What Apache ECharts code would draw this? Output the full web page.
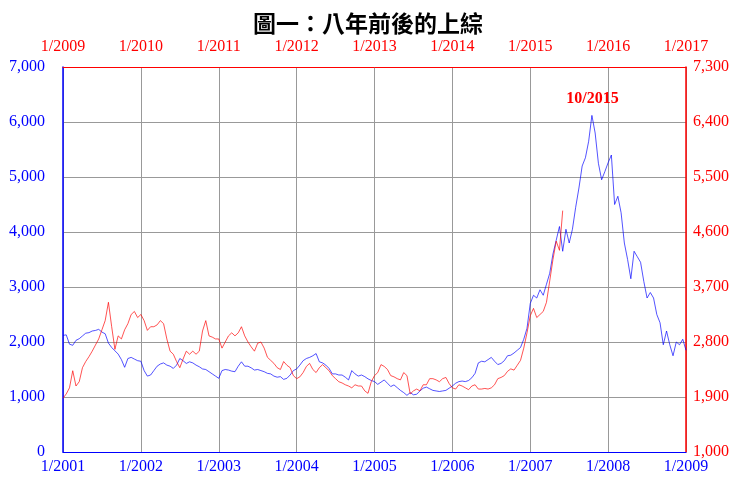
<!DOCTYPE html>
<html><head><meta charset="utf-8">
<script src="https://cdn.jsdelivr.net/npm/echarts@6/dist/echarts.min.js"></script>
<style>html,body{margin:0;padding:0;background:#fff}#c{width:736px;height:478px}</style>
</head><body><div id="c"></div>
<script>
// ---- data ----
const titleText = '圖一：八年前後的上綜';
const annotationText = '10/2015';
const annotationAt = [2015.8, 6780];          // [top-axis year, right-axis value]
const blueStartYear = 2001;                   // bottom axis 1/2001 .. 1/2009
const redStartYear = 2009;                    // top axis 1/2009 .. 1/2017
const pointsPerYear = 24;                     // values read twice a month
const bottomYears = [2001, 2009];
const topYears = [2009, 2017];
const leftTicks = [0, 7000, 1000];
const rightTicks = [1000, 7300, 900];

// Shanghai Composite, 2001-2008 (left axis, blue)
const blueValues = [
  2120,2130,1960,1940,2030,2060,2110,2160,2170,2200,2210,2230,2180,2150,1980,1900,1840,1780,1680,1540,1700,1720,1690,1660,
  1650,1480,1380,1400,1480,1560,1600,1620,1580,1560,1520,1580,1700,1660,1610,1640,1620,1580,1550,1510,1500,1460,1420,1380,
  1340,1480,1500,1490,1470,1460,1560,1640,1560,1560,1530,1490,1500,1480,1460,1430,1420,1380,1360,1370,1320,1340,1400,1480,
  1510,1580,1660,1700,1720,1750,1790,1640,1620,1580,1520,1420,1420,1400,1400,1360,1310,1480,1420,1380,1400,1370,1330,1300,
  1280,1230,1270,1310,1250,1190,1220,1170,1120,1080,1030,1080,1040,1050,1110,1160,1180,1150,1120,1110,1100,1110,1120,1160,
  1200,1250,1280,1290,1280,1300,1350,1430,1620,1650,1640,1680,1720,1650,1590,1610,1660,1750,1760,1800,1850,1900,2050,2250,
  2700,2850,2800,2950,2850,3050,3250,3600,3850,4100,3650,4050,3800,4050,4450,4800,5200,5350,5650,6120,5800,5250,4950,5100,
  5260,5400,4500,4650,4350,3800,3500,3150,3650,3550,3450,3100,2800,2900,2800,2500,2350,1950,2200,1950,1750,2000,1950,2050,
  1850
];

// Shanghai Composite, 2009-06/2015 (right axis, red)
const redValues = [
  1880,1950,2050,2330,2080,2150,2380,2480,2560,2650,2750,2850,3000,3150,3450,3050,2680,2900,2850,3000,3100,3250,3300,3200,
  3250,3150,2990,3050,3050,3080,3150,3100,2850,2650,2600,2480,2380,2520,2650,2600,2650,2600,2650,2980,3150,2900,2880,2850,
  2850,2700,2800,2900,2950,2900,2950,3050,2900,2800,2720,2650,2780,2800,2700,2550,2500,2450,2380,2350,2480,2420,2380,2250,
  2200,2230,2300,2400,2450,2350,2300,2380,2430,2380,2330,2250,2200,2150,2130,2100,2080,2050,2100,2080,2080,2000,1960,2150,
  2250,2300,2430,2400,2350,2250,2230,2200,2180,2300,2250,1950,2000,2030,2000,2100,2100,2200,2200,2180,2150,2200,2220,2120,
  2050,2030,2100,2080,2050,2020,2080,2100,2030,2030,2040,2030,2050,2100,2200,2220,2250,2320,2360,2340,2420,2500,2700,2950,
  3230,3350,3200,3250,3300,3450,3800,4150,4450,4300,4950
];

// ---- chart ----
const BLUE = '#0000ff', RED = '#ff0000', GRID = '#999999';
const SERIF = '"Liberation Serif", "Times New Roman", serif';
const fmtNum = v => Math.round(v).toLocaleString('en-US');
const toPairs = (vals, start) => vals.map((v, i) => [start + i / pointsPerYear, v]);

const chart = echarts.init(document.getElementById('c'), null, {renderer: 'canvas'});
chart.setOption({
  animation: false,
  backgroundColor: '#ffffff',
  title: {
    text: titleText, left: 'center', top: 7,
    textStyle: {fontFamily: '"Noto Sans CJK TC", "Noto Sans CJK SC", sans-serif', fontSize: 23, fontWeight: 'bold', color: '#000'}
  },
  grid: {left: 63, right: 50, top: 67, bottom: 26, containLabel: false},
  xAxis: [
    {
      type: 'value', position: 'bottom', min: bottomYears[0], max: bottomYears[1], interval: 1,
      axisLine: {show: true, onZero: false, lineStyle: {color: BLUE, width: 1}},
      axisTick: {show: false},
      axisLabel: {color: BLUE, fontFamily: SERIF, fontSize: 16, margin: 7, formatter: v => '1/' + v},
      splitLine: {show: true, lineStyle: {color: GRID, width: 1}}
    },
    {
      type: 'value', position: 'top', min: topYears[0], max: topYears[1], interval: 1,
      axisLine: {show: true, onZero: false, lineStyle: {color: RED, width: 1}},
      axisTick: {show: false},
      axisLabel: {color: RED, fontFamily: SERIF, fontSize: 16, margin: 12, formatter: v => '1/' + v},
      splitLine: {show: false}
    }
  ],
  yAxis: [
    {
      type: 'value', position: 'left', min: leftTicks[0], max: leftTicks[1], interval: leftTicks[2],
      axisLine: {show: true, onZero: false, lineStyle: {color: BLUE, width: 1.5}},
      axisTick: {show: false},
      axisLabel: {color: BLUE, fontFamily: SERIF, fontSize: 16, margin: 18, formatter: fmtNum},
      splitLine: {show: true, lineStyle: {color: GRID, width: 1}}
    },
    {
      type: 'value', position: 'right', min: rightTicks[0], max: rightTicks[1], interval: rightTicks[2],
      axisLine: {show: true, onZero: false, lineStyle: {color: RED, width: 1.5}},
      axisTick: {show: false},
      axisLabel: {color: RED, fontFamily: SERIF, fontSize: 16, margin: 7, formatter: fmtNum},
      splitLine: {show: false}
    }
  ],
  series: [
    {
      type: 'line', name: '2001-2008', xAxisIndex: 0, yAxisIndex: 0,
      data: toPairs(blueValues, blueStartYear), showSymbol: false, symbol: 'none',
      lineStyle: {color: BLUE, width: 0.8, opacity: 0.85}, z: 3
    },
    {
      type: 'line', name: '2009-2015', xAxisIndex: 1, yAxisIndex: 1,
      data: toPairs(redValues, redStartYear), showSymbol: false, symbol: 'none',
      lineStyle: {color: RED, width: 0.8, opacity: 0.85}, z: 4,
      markPoint: {
        symbol: 'circle', symbolSize: 0, silent: true,
        data: [{coord: annotationAt}],
        label: {show: true, position: 'inside', formatter: annotationText, color: RED,
                fontFamily: SERIF, fontSize: 16, fontWeight: 'bold'}
      }
    }
  ]
});
</script>
</body></html>
